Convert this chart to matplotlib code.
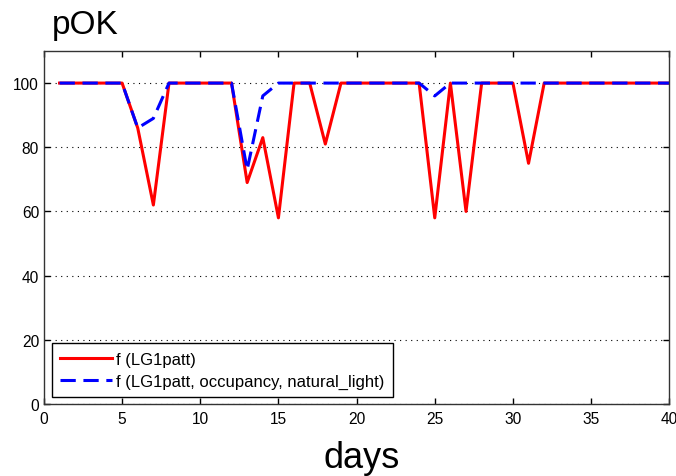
import matplotlib.pyplot as plt

plt.rcParams['font.family'] = ['Liberation Sans', 'DejaVu Sans']

days = list(range(1, 41))
# pOK per day, pattern only
pok_patt = [100, 100, 100, 100, 100, 86, 62, 100, 100, 100,
            100, 100, 69, 83, 58, 100, 100, 81, 100, 100,
            100, 100, 100, 100, 58, 100, 60, 100, 100, 100,
            75, 100, 100, 100, 100, 100, 100, 100, 100, 100]
# pOK per day, pattern + occupancy + natural light
pok_full = [100, 100, 100, 100, 100, 86, 89, 100, 100, 100,
            100, 100, 73, 96, 100, 100, 100, 100, 100, 100,
            100, 100, 100, 100, 96, 100, 100, 100, 100, 100,
            100, 100, 100, 100, 100, 100, 100, 100, 100, 100]

fig = plt.figure(figsize=(6.76, 4.77), dpi=100)
ax = fig.add_axes([0.065, 0.151, 0.925, 0.740])

ax.plot(days, pok_patt, color='red', lw=2.2, label='f (LG1patt)')
ax.plot(days, pok_full, color='blue', lw=2.2, ls=(0, (5, 2.5)),
        label='f (LG1patt, occupancy, natural_light)')

ax.set_xlim(0, 40)
ax.set_ylim(0, 110)
ax.set_xticks(range(0, 41, 5))
ax.set_yticks(range(0, 101, 20))
ax.yaxis.grid(True, color='black', ls=(0, (1, 4)), lw=0.8)
ax.tick_params(direction='in', top=True, right=True, length=4,
               labelsize=11.2, width=1)
ax.tick_params(axis='x', pad=5)
for s in ax.spines.values():
    s.set_linewidth(1)
    s.set_color('#333333')

ax.set_xlabel('days', fontsize=26)
ax.xaxis.label.set_va('baseline')
ax.xaxis.set_label_coords(0.508, -0.178)
fig.text(0.077, 0.929, 'pOK', fontsize=24)

leg = ax.legend(loc='lower left', bbox_to_anchor=(0.013, 0.02),
                borderaxespad=0, fontsize=12, handlelength=3.1,
                handletextpad=0.25, fancybox=False, framealpha=1,
                edgecolor='black', borderpad=0.5, labelspacing=0.4)
leg.get_frame().set_linewidth(1)

fig.savefig('out.png', dpi=100)
